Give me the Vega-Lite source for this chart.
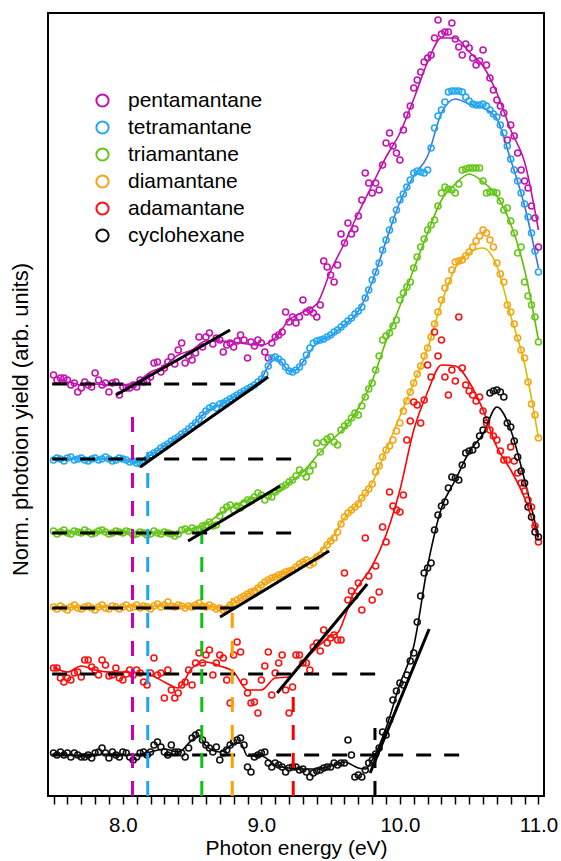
{
"$schema":"https://vega.github.io/schema/vega-lite/v6.json",
"width":496,"height":783,
"autosize":"none",
"padding":{"left":48,"top":13,"right":17,"bottom":65},
"background":"white",
"config":{"font":"Liberation Sans","view":{"stroke":"black","strokeWidth":2}},
"datasets":{
"pts":[
{"x":7.5,"p":421,"t":336,"g":265,"d":189,"a":128,"c":43},
{"x":7.525,"p":416,"t":338,"g":262,"d":187,"a":128,"c":41},
{"x":7.55,"p":418,"t":337,"g":264,"d":190,"a":118,"c":44},
{"x":7.575,"p":418,"t":335,"g":266,"d":188,"a":114,"c":41},
{"x":7.6,"p":416,"t":338,"g":263,"d":186,"a":118,"c":43},
{"x":7.625,"p":411,"t":339,"g":262,"d":189,"a":116,"c":39},
{"x":7.65,"p":413,"t":336,"g":265,"d":191,"a":123,"c":43},
{"x":7.675,"p":404,"t":337,"g":264,"d":188,"a":124,"c":41},
{"x":7.7,"p":408,"t":338,"g":263,"d":187,"a":119,"c":39},
{"x":7.725,"p":414,"t":336,"g":266,"d":189,"a":136,"c":39},
{"x":7.75,"p":411,"t":335,"g":264,"d":190,"a":136,"c":41},
{"x":7.775,"p":409,"t":337,"g":262,"d":188,"a":129,"c":38},
{"x":7.8,"p":423,"t":338,"g":263,"d":186,"a":126,"c":43},
{"x":7.825,"p":416,"t":336,"g":265,"d":189,"a":121,"c":44},
{"x":7.85,"p":411,"t":337,"g":266,"d":191,"a":136,"c":48},
{"x":7.875,"p":413,"t":339,"g":264,"d":188,"a":131,"c":43},
{"x":7.9,"p":404,"t":337,"g":262,"d":187,"a":120,"c":38},
{"x":7.925,"p":413,"t":335,"g":263,"d":190,"a":121,"c":44},
{"x":7.95,"p":414,"t":336,"g":265,"d":189,"a":128,"c":41},
{"x":7.975,"p":401,"t":338,"g":264,"d":187,"a":118,"c":39},
{"x":8,"p":409,"t":337,"g":263,"d":189,"a":116,"c":44},
{"x":8.025,"p":408,"t":336,"g":265,"d":191,"a":122,"c":43},
{"x":8.05,"p":408,"t":334,"g":264,"d":188,"a":126,"c":39},
{"x":8.075,"p":411,"t":335,"g":261,"d":189,"a":121,"c":36},
{"x":8.1,"p":409,"t":333,"g":262,"d":191,"a":126,"c":39},
{"x":8.125,"p":416,"t":332,"g":264,"d":188,"a":123,"c":43},
{"x":8.15,"p":414,"t":334,"g":263,"d":190,"a":114,"c":44},
{"x":8.175,"p":416,"t":337,"g":261,"d":189,"a":111,"c":41},
{"x":8.2,"p":419,"t":341,"g":262,"d":187,"a":123,"c":44},
{"x":8.225,"p":433,"t":343,"g":265,"d":190,"a":138,"c":51},
{"x":8.25,"p":434,"t":345,"g":263,"d":192,"a":121,"c":54},
{"x":8.275,"p":424,"t":348,"g":262,"d":189,"a":123,"c":49},
{"x":8.3,"p":428,"t":350,"g":264,"d":191,"a":98,"c":44},
{"x":8.325,"p":434,"t":352,"g":263,"d":194,"a":126,"c":41},
{"x":8.35,"p":439,"t":355,"g":262,"d":190,"a":106,"c":51},
{"x":8.375,"p":432,"t":357,"g":260,"d":189,"a":98,"c":44},
{"x":8.4,"p":446,"t":359,"g":262,"d":191,"a":103,"c":44},
{"x":8.425,"p":453,"t":362,"g":266,"d":190,"a":111,"c":43},
{"x":8.45,"p":433,"t":364,"g":267,"d":188,"a":114,"c":39},
{"x":8.475,"p":440,"t":367,"g":265,"d":190,"a":126,"c":48},
{"x":8.5,"p":436,"t":370,"g":268,"d":189,"a":111,"c":58},
{"x":8.525,"p":443,"t":373,"g":266,"d":191,"a":133,"c":61},
{"x":8.55,"p":459,"t":377,"g":267,"d":193,"a":143,"c":63},
{"x":8.575,"p":449,"t":381,"g":270,"d":190,"a":133,"c":56},
{"x":8.6,"p":459,"t":385,"g":271,"d":189,"a":141,"c":51},
{"x":8.625,"p":463,"t":388,"g":274,"d":191,"a":146,"c":48},
{"x":8.65,"p":452,"t":390,"g":270,"d":189,"a":121,"c":44},
{"x":8.675,"p":458,"t":388,"g":271,"d":187,"a":133,"c":49},
{"x":8.7,"p":456,"t":392,"g":280,"d":188,"a":141,"c":36},
{"x":8.725,"p":444,"t":393,"g":286,"d":186,"a":138,"c":43},
{"x":8.75,"p":451,"t":395,"g":289,"d":187,"a":116,"c":46},
{"x":8.775,"p":453,"t":397,"g":291,"d":191,"a":93,"c":51},
{"x":8.8,"p":449,"t":399,"g":286,"d":193,"a":141,"c":54},
{"x":8.825,"p":455,"t":401,"g":290,"d":196,"a":154,"c":56},
{"x":8.85,"p":461,"t":403,"g":288,"d":198,"a":144,"c":58},
{"x":8.875,"p":456,"t":405,"g":293,"d":200,"a":114,"c":51},
{"x":8.9,"p":438,"t":407,"g":296,"d":202,"a":103,"c":29},
{"x":8.925,"p":454,"t":409,"g":296,"d":204,"a":93,"c":24},
{"x":8.95,"p":450,"t":411,"g":299,"d":205,"a":94,"c":39},
{"x":8.975,"p":456,"t":414,"g":303,"d":208,"a":83,"c":41},
{"x":9,"p":453,"t":417,"g":301,"d":211,"a":116,"c":43},
{"x":9.025,"p":444,"t":422,"g":296,"d":214,"a":130,"c":44},
{"x":9.05,"p":438,"t":430,"g":300,"d":216,"a":144,"c":33},
{"x":9.075,"p":453,"t":438,"g":299,"d":218,"a":101,"c":29},
{"x":9.1,"p":459,"t":439,"g":304,"d":219,"a":123,"c":33},
{"x":9.125,"p":461,"t":437,"g":307,"d":221,"a":133,"c":31},
{"x":9.15,"p":464,"t":434,"g":309,"d":222,"a":141,"c":29},
{"x":9.175,"p":484,"t":429,"g":311,"d":224,"a":106,"c":24},
{"x":9.2,"p":474,"t":425,"g":314,"d":225,"a":83,"c":28},
{"x":9.225,"p":479,"t":424,"g":316,"d":226,"a":109,"c":29},
{"x":9.25,"p":473,"t":426,"g":320,"d":229,"a":141,"c":29},
{"x":9.275,"p":479,"t":429,"g":326,"d":232,"a":141,"c":26},
{"x":9.3,"p":496,"t":434,"g":323,"d":234,"a":133,"c":27},
{"x":9.325,"p":484,"t":441,"g":319,"d":236,"a":133,"c":24},
{"x":9.35,"p":486,"t":448,"g":325,"d":231,"a":126,"c":19},
{"x":9.375,"p":483,"t":453,"g":331,"d":233,"a":149,"c":23},
{"x":9.4,"p":479,"t":455,"g":353,"d":239,"a":153,"c":25},
{"x":9.425,"p":491,"t":456,"g":344,"d":241,"a":145,"c":26},
{"x":9.45,"p":535,"t":457,"g":354,"d":246,"a":166,"c":28},
{"x":9.475,"p":529,"t":459,"g":357,"d":251,"a":153,"c":29},
{"x":9.5,"p":521,"t":461,"g":359,"d":255,"a":158,"c":29},
{"x":9.525,"p":514,"t":464,"g":354,"d":258,"a":161,"c":33},
{"x":9.55,"p":531,"t":466,"g":351,"d":264,"a":156,"c":31},
{"x":9.575,"p":562,"t":469,"g":366,"d":272,"a":156,"c":33},
{"x":9.6,"p":553,"t":472,"g":370,"d":279,"a":223,"c":33},
{"x":9.625,"p":573,"t":475,"g":373,"d":283,"a":196,"c":56},
{"x":9.65,"p":562,"t":478,"g":378,"d":286,"a":205,"c":41},
{"x":9.675,"p":567,"t":482,"g":383,"d":289,"a":200,"c":19},
{"x":9.7,"p":580,"t":485,"g":381,"d":292,"a":213,"c":21},
{"x":9.725,"p":596,"t":489,"g":390,"d":298,"a":186,"c":19},
{"x":9.75,"p":623,"t":498,"g":399,"d":303,"a":258,"c":26},
{"x":9.775,"p":613,"t":506,"g":407,"d":307,"a":220,"c":33},
{"x":9.8,"p":603,"t":516,"g":413,"d":312,"a":196,"c":36},
{"x":9.825,"p":613,"t":524,"g":426,"d":324,"a":230,"c":42},
{"x":9.85,"p":606,"t":533,"g":440,"d":330,"a":204,"c":48},
{"x":9.875,"p":631,"t":546,"g":456,"d":339,"a":269,"c":64},
{"x":9.9,"p":653,"t":556,"g":460,"d":346,"a":254,"c":61},
{"x":9.925,"p":663,"t":566,"g":463,"d":350,"a":304,"c":76},
{"x":9.95,"p":650,"t":576,"g":470,"d":356,"a":290,"c":96},
{"x":9.975,"p":643,"t":586,"g":476,"d":365,"a":286,"c":105},
{"x":10,"p":636,"t":596,"g":496,"d":373,"a":284,"c":113},
{"x":10.025,"p":666,"t":602,"g":503,"d":385,"a":301,"c":111},
{"x":10.05,"p":681,"t":609,"g":509,"d":395,"a":356,"c":121},
{"x":10.075,"p":690,"t":616,"g":514,"d":404,"a":375,"c":135},
{"x":10.1,"p":708,"t":623,"g":528,"d":413,"a":394,"c":143},
{"x":10.125,"p":716,"t":625,"g":539,"d":422,"a":391,"c":174},
{"x":10.15,"p":724,"t":624,"g":549,"d":430,"a":373,"c":200},
{"x":10.175,"p":734,"t":623,"g":557,"d":440,"a":396,"c":223},
{"x":10.2,"p":738,"t":626,"g":566,"d":448,"a":431,"c":228},
{"x":10.225,"p":741,"t":648,"g":571,"d":459,"a":419,"c":233},
{"x":10.25,"p":758,"t":668,"g":576,"d":472,"a":464,"c":266},
{"x":10.275,"p":776,"t":680,"g":590,"d":484,"a":440,"c":281},
{"x":10.3,"p":762,"t":686,"g":603,"d":496,"a":456,"c":290},
{"x":10.325,"p":764,"t":694,"g":609,"d":508,"a":419,"c":294},
{"x":10.35,"p":764,"t":704,"g":607,"d":515,"a":401,"c":308},
{"x":10.375,"p":773,"t":705,"g":606,"d":526,"a":426,"c":319},
{"x":10.4,"p":757,"t":705,"g":603,"d":534,"a":415,"c":318},
{"x":10.425,"p":749,"t":705,"g":612,"d":535,"a":479,"c":316},
{"x":10.45,"p":741,"t":704,"g":626,"d":536,"a":428,"c":331},
{"x":10.475,"p":752,"t":699,"g":627,"d":540,"a":411,"c":343},
{"x":10.5,"p":748,"t":695,"g":628,"d":544,"a":405,"c":345},
{"x":10.525,"p":738,"t":692,"g":628,"d":549,"a":401,"c":346},
{"x":10.55,"p":731,"t":691,"g":628,"d":555,"a":395,"c":351},
{"x":10.575,"p":735,"t":691,"g":628,"d":560,"a":399,"c":360},
{"x":10.6,"p":746,"t":692,"g":615,"d":566,"a":385,"c":366},
{"x":10.625,"p":731,"t":690,"g":603,"d":563,"a":373,"c":376},
{"x":10.65,"p":718,"t":686,"g":604,"d":556,"a":366,"c":403},
{"x":10.675,"p":706,"t":682,"g":604,"d":549,"a":360,"c":405},
{"x":10.7,"p":696,"t":679,"g":603,"d":533,"a":356,"c":406},
{"x":10.725,"p":690,"t":671,"g":595,"d":522,"a":345,"c":404},
{"x":10.75,"p":683,"t":663,"g":586,"d":514,"a":336,"c":399},
{"x":10.775,"p":656,"t":650,"g":588,"d":491,"a":336,"c":373},
{"x":10.8,"p":671,"t":637,"g":575,"d":484,"a":349,"c":369},
{"x":10.825,"p":660,"t":626,"g":563,"d":472,"a":335,"c":355},
{"x":10.85,"p":643,"t":615,"g":543,"d":458,"a":323,"c":339},
{"x":10.875,"p":626,"t":603,"g":549,"d":446,"a":313,"c":325},
{"x":10.9,"p":615,"t":592,"g":514,"d":438,"a":305,"c":313},
{"x":10.925,"p":608,"t":579,"g":500,"d":414,"a":296,"c":289},
{"x":10.95,"p":590,"t":563,"g":491,"d":392,"a":289,"c":279},
{"x":10.975,"p":578,"t":545,"g":479,"d":381,"a":270,"c":264},
{"x":11,"p":549,"t":524,"g":454,"d":358,"a":254,"c":259}
],
"crv":[
{"x":7.5,"p":413,"t":337,"g":264,"d":189,"a":129,"c":42},
{"x":7.6,"p":414,"t":337,"g":264,"d":189,"a":124,"c":41},
{"x":7.7,"p":411,"t":338,"g":264,"d":188,"a":130,"c":40},
{"x":7.8,"p":412,"t":337,"g":264,"d":189,"a":126,"c":41},
{"x":7.9,"p":411,"t":337,"g":264,"d":189,"a":124,"c":42},
{"x":8,"p":411,"t":337,"g":264,"d":189,"a":124,"c":41},
{"x":8.1,"p":414,"t":334,"g":263,"d":190,"a":123,"c":41},
{"x":8.2,"p":424,"t":341,"g":263,"d":190,"a":121,"c":44},
{"x":8.3,"p":430,"t":350,"g":263,"d":190,"a":114,"c":47},
{"x":8.4,"p":441,"t":359,"g":263,"d":190,"a":108,"c":44},
{"x":8.5,"p":446,"t":370,"g":267,"d":190,"a":128,"c":56},
{"x":8.55,"c":60},
{"x":8.6,"p":455,"t":384,"g":272,"d":190,"a":134,"c":50},
{"x":8.7,"p":455,"t":391,"g":282,"d":189,"a":130,"c":44},
{"x":8.8,"p":454,"t":399,"g":290,"d":193,"a":124,"c":52},
{"x":8.85,"c":53},
{"x":8.9,"p":452,"t":407,"g":296,"d":202,"a":106,"c":40},
{"x":9,"p":451,"t":417,"g":300,"d":211,"a":106,"c":40},
{"x":9.05,"t":430},
{"x":9.1,"p":458,"t":437,"g":303,"d":219,"a":118,"c":31},
{"x":9.15,"t":433},
{"x":9.2,"p":476,"t":425,"g":313,"d":225,"a":119,"c":28},
{"x":9.25,"t":426},
{"x":9.3,"p":484,"t":434,"g":324,"d":234,"a":134,"c":27},
{"x":9.4,"p":492,"t":453,"g":340,"d":241,"a":148,"c":27},
{"x":9.5,"p":525,"t":460,"g":355,"d":256,"a":160,"c":30},
{"x":9.55,"a":163},
{"x":9.6,"p":553,"t":471,"g":368,"d":278,"a":178,"c":34},
{"x":9.65,"a":198},
{"x":9.7,"p":583,"t":485,"g":388,"d":293,"a":210,"c":28},
{"x":9.75,"c":27},
{"x":9.8,"p":611,"t":514,"g":415,"d":313,"a":230,"c":36},
{"x":9.9,"p":639,"t":555,"g":455,"d":346,"a":261,"c":68},
{"x":10,"p":663,"t":594,"g":490,"d":380,"a":306,"c":112},
{"x":10.1,"p":697,"t":620,"g":527,"d":413,"a":366,"c":150},
{"x":10.2,"p":734,"t":640,"g":563,"d":448,"a":404,"c":230},
{"x":10.3,"p":758,"t":683,"g":596,"d":493,"a":431,"c":288},
{"x":10.4,"p":758,"t":697,"g":612,"d":528,"a":430,"c":316},
{"x":10.5,"p":744,"t":692,"g":622,"d":543,"a":414,"c":344},
{"x":10.6,"p":730,"t":688,"g":614,"d":548,"a":386,"c":362},
{"x":10.7,"p":703,"t":677,"g":600,"d":530,"a":349,"c":389},
{"x":10.8,"p":666,"t":636,"g":572,"d":480,"a":326,"c":366},
{"x":10.9,"p":634,"t":590,"g":526,"d":432,"a":298,"c":316},
{"x":11,"p":566,"t":528,"g":456,"d":358,"a":256,"c":259}
],
"fit":[
{"id":"p","x":7.951,"y":401},{"id":"p","x":8.774,"y":466},
{"id":"t","x":8.125,"y":329},{"id":"t","x":9.049,"y":419},
{"id":"g","x":8.471,"y":255},{"id":"g","x":9.135,"y":310},
{"id":"d","x":8.702,"y":179},{"id":"d","x":9.489,"y":245},
{"id":"a","x":9.114,"y":103},{"id":"a","x":9.764,"y":212},
{"id":"c","x":9.785,"y":23},{"id":"c","x":10.211,"y":167}
],
"base":[
{"x":7.49,"x2":8.83,"y":412},
{"x":7.49,"x2":9.27,"y":337},
{"x":7.49,"x2":9.27,"y":263},
{"x":7.49,"x2":9.5,"y":188},
{"x":7.49,"x2":9.89,"y":122},
{"x":7.49,"x2":10.45,"y":41}
],
"vl":[
{"k":"p","x":8.07,"y":0,"y2":390},
{"k":"t","x":8.18,"y":0,"y2":344},
{"k":"g","x":8.57,"y":0,"y2":274},
{"k":"d","x":8.79,"y":0,"y2":198},
{"k":"a","x":9.23,"y":0,"y2":101},
{"k":"c","x":9.82,"y":0,"y2":68}
]
},
"encoding":{
"x":{"field":"x","type":"quantitative","scale":{"domain":[7.46,11.04],"nice":false,"zero":false},
"axis":{"values":[7.5,7.6,7.7,7.8,7.9,8,8.1,8.2,8.3,8.4,8.5,8.6,8.7,8.8,8.9,9,9.1,9.2,9.3,9.4,9.5,9.6,9.7,9.8,9.9,10,10.1,10.2,10.3,10.4,10.5,10.6,10.7,10.8,10.9,11],
"labelExpr":"abs(datum.value - round(datum.value)) < 0.01 ? format(datum.value, '.1f') : ''",
"labelOverlap":false,"labelFlush":false,"domain":false,"grid":false,"tickSize":8,"tickWidth":1.5,"tickColor":"black",
"labelFontSize":20.5,"labelColor":"black","labelPadding":11,
"title":"Photon energy (eV)","titleFontSize":21,"titleFontWeight":"normal","titleColor":"black","titleY":58,"titleBaseline":"alphabetic"}},
"y":{"field":"y","type":"quantitative","scale":{"domain":[0,783],"nice":false,"zero":false},
"axis":{"ticks":false,"labels":false,"domain":false,"grid":false,
"title":"Norm. photoion yield (arb. units)","titleFontSize":22,"titleFontWeight":"normal","titleColor":"black",
"titleX":-28,"titleY":406,"titleAngle":-90,"titleAlign":"center","titleBaseline":"middle"}}
},
"layer":[
{"data":{"name":"crv"},
"transform":[{"fold":["p","t","g","d","a","c"],"as":["k","y"]},{"filter":"isValid(datum.y)"}],
"mark":{"type":"line","interpolate":"monotone","strokeWidth":1.6},
"encoding":{"color":{"field":"k","type":"nominal","scale":{"domain":["p","t","g","d","a","c"],"range":["#c010a8","#3a72e8","#5ebf00","#d2c000","#ff0000","#000000"]},"legend":null}}},
{"data":{"name":"pts"},
"transform":[{"fold":["p","t","g","d","a","c"],"as":["k","y"]}],
"mark":{"type":"point","shape":"circle","filled":false,"size":36,"strokeWidth":1.6,"opacity":1},
"encoding":{"color":{"field":"k","type":"nominal","scale":{"domain":["p","t","g","d","a","c"],"range":["#c414b0","#22a8f0","#66c61c","#f6a416","#ff1010","#111111"]},
"legend":{"orient":"none","legendX":44,"legendY":77,"title":null,"padding":0,"labelFontSize":21,"labelColor":"black","labelFont":"Liberation Sans",
"symbolType":"circle","symbolSize":150,"symbolStrokeWidth":2,"rowPadding":5,"labelOffset":15,
"labelExpr":"datum.label == 'p' ? 'pentamantane' : datum.label == 't' ? 'tetramantane' : datum.label == 'g' ? 'triamantane' : datum.label == 'd' ? 'diamantane' : datum.label == 'a' ? 'adamantane' : 'cyclohexane'"}}}},
{"data":{"name":"base"},
"mark":{"type":"rule","color":"black","strokeWidth":3,"strokeDash":[15,13]},
"encoding":{"x2":{"field":"x2"}}},
{"data":{"name":"vl"},
"mark":{"type":"rule","strokeWidth":3,"strokeDash":[15,13]},
"encoding":{"y2":{"field":"y2"},"color":{"field":"k","type":"nominal","scale":{"domain":["p","t","g","d","a","c"],"range":["#c800b4","#1ea5f0","#10c010","#ffa000","#ff0000","#000000"]},"legend":null}}},
{"data":{"name":"fit"},
"mark":{"type":"line","color":"black","strokeWidth":3},
"encoding":{"detail":{"field":"id"}}}
],
"resolve":{"scale":{"color":"independent"}}
}
